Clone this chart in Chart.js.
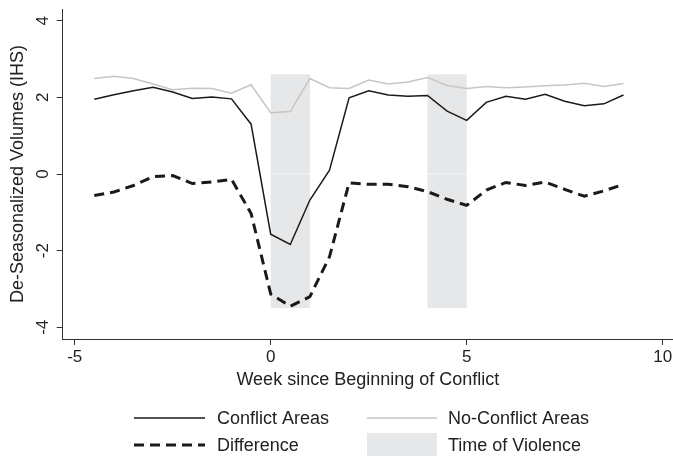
<!DOCTYPE html>
<html>
<head>
<meta charset="utf-8">
<script src="https://cdn.jsdelivr.net/npm/chart.js@4"></script>
<style>
  html, body { margin: 0; padding: 0; background: #fff; }
  #wrap { width: 673px; height: 456px; position: relative; }
</style>
</head>
<body>
<div id="wrap"><canvas id="c" width="673" height="456"></canvas></div>
<script>
// ---- data ----
const weeks = [-4.5,-4,-3.5,-3,-2.5,-2,-1.5,-1,-0.5,0,0.5,1,1.5,2,2.5,3,3.5,4,4.5,5,5.5,6,6.5,7,7.5,8,8.5,9];
const conflictAreas = [1.95,2.07,2.17,2.26,2.14,1.97,2.01,1.96,1.30,-1.57,-1.84,-0.68,0.10,1.99,2.17,2.06,2.03,2.05,1.64,1.40,1.87,2.03,1.95,2.08,1.90,1.78,1.83,2.06];
const noConflictAreas = [2.49,2.55,2.49,2.35,2.20,2.24,2.23,2.11,2.33,1.60,1.63,2.49,2.25,2.23,2.45,2.35,2.40,2.52,2.31,2.23,2.28,2.25,2.27,2.30,2.32,2.37,2.28,2.36];
const difference = [-0.56,-0.47,-0.30,-0.07,-0.04,-0.25,-0.21,-0.14,-1.03,-3.13,-3.45,-3.20,-2.16,-0.23,-0.27,-0.27,-0.33,-0.46,-0.66,-0.82,-0.42,-0.22,-0.30,-0.21,-0.40,-0.58,-0.44,-0.27];
const violenceStart = [0, 4];
const violenceEnd = [1, 5];
const violenceTop = 2.6;
const violenceBottom = -3.5;
const xTicks = [-5, 0, 5, 10];
const yTicks = [-4, -2, 0, 2, 4];
const seriesLabels = ['Conflict Areas', 'No-Conflict Areas', 'Difference', 'Time of Violence'];
const xTitle = 'Week since Beginning of Conflict';
const yTitle = 'De-Seasonalized Volumes (IHS)';

const FONT = '"Liberation Sans", Arial, Helvetica, sans-serif';
const TXT = '#222';
const SHADE = '#e6e7e9';

const pts = arr => weeks.map((w, i) => ({x: w, y: arr[i]}));

const shadePlugin = {
  id: 'shade',
  beforeDatasetsDraw(chart) {
    const {ctx, scales: {x, y}} = chart;
    ctx.save();
    ctx.fillStyle = SHADE;
    violenceStart.forEach((s, i) => {
      const x0 = x.getPixelForValue(s), x1 = x.getPixelForValue(violenceEnd[i]);
      const y0 = y.getPixelForValue(violenceTop), y1 = y.getPixelForValue(violenceBottom);
      ctx.fillRect(x0, y0, x1 - x0, y1 - y0);
    });
    ctx.restore();
  }
};

const legendPlugin = {
  id: 'customLegend',
  afterDraw(chart) {
    const ctx = chart.ctx;
    const ds = chart.data.datasets;
    ctx.save();
    ctx.font = '18px ' + FONT;
    ctx.fillStyle = TXT;
    ctx.textBaseline = 'middle';
    const cols = [{lx0: 134, lx1: 205, tx: 217}, {lx0: 367, lx1: 437, tx: 448}];
    const rows = [418, 445];
    const items = [
      {ds: ds[1], col: 0, row: 0, label: seriesLabels[0]},
      {ds: ds[0], col: 1, row: 0, label: seriesLabels[1]},
      {ds: ds[2], col: 0, row: 1, label: seriesLabels[2]},
      {box: true, col: 1, row: 1, label: seriesLabels[3]}
    ];
    items.forEach(it => {
      const c = cols[it.col], yy = rows[it.row];
      if (it.box) {
        ctx.fillStyle = SHADE;
        ctx.fillRect(c.lx0, yy - 12, c.lx1 - c.lx0, 24);
      } else {
        ctx.strokeStyle = it.ds.borderColor;
        ctx.lineWidth = it.ds.borderWidth;
        ctx.setLineDash(it.ds.borderDash || []);
        ctx.beginPath();
        ctx.moveTo(c.lx0, yy);
        ctx.lineTo(c.lx1, yy);
        ctx.stroke();
        ctx.setLineDash([]);
      }
      ctx.fillStyle = TXT;
      ctx.fillText(it.label, c.tx, yy + 1);
    });
    ctx.restore();
  }
};

new Chart(document.getElementById('c'), {
  type: 'line',
  data: {
    datasets: [
      {label: seriesLabels[1], data: pts(noConflictAreas), borderColor: '#c6c6c6', borderWidth: 1.5, pointRadius: 0, tension: 0, order: 3},
      {label: seriesLabels[0], data: pts(conflictAreas), borderColor: '#1a1a1a', borderWidth: 1.5, pointRadius: 0, tension: 0, order: 2},
      {label: seriesLabels[2], data: pts(difference), borderColor: '#1a1a1a', borderWidth: 3, borderDash: [10, 6], pointRadius: 0, tension: 0, order: 1},
      {label: 'zero', data: [{x: weeks[0], y: 0}, {x: weeks[weeks.length - 1], y: 0}], borderColor: 'rgba(255,255,255,0.45)', borderWidth: 1.5, pointRadius: 0, order: 4}
    ]
  },
  options: {
    responsive: false,
    animation: false,
    events: [],
    layout: {padding: {top: 9, right: 0, left: 0, bottom: 61}},
    plugins: {legend: {display: false}, tooltip: {enabled: false}},
    scales: {
      x: {
        type: 'linear', min: -5.306, max: 10.263,
        afterBuildTicks: s => { s.ticks = xTicks.map(v => ({value: v})); },
        afterFit: s => { s.height = 56; s.paddingLeft = 0; s.paddingRight = 0; },
        grid: {drawOnChartArea: false, tickLength: 6, color: '#333', tickWidth: 1},
        border: {display: true, color: '#333', width: 1},
        ticks: {font: {size: 17, family: FONT}, color: TXT, padding: 2, maxRotation: 0},
        title: {display: true, text: xTitle, font: {size: 18, family: FONT}, color: TXT, padding: {top: 0, bottom: 4}}
      },
      y: {
        type: 'linear', min: -4.305, max: 4.305,
        afterBuildTicks: s => { s.ticks = yTicks.map(v => ({value: v})); },
        afterFit: s => { s.width = 62.7; s.paddingTop = 0; s.paddingBottom = 0; },
        grid: {drawOnChartArea: false, tickLength: 6, color: '#333', tickWidth: 1},
        border: {display: true, color: '#333', width: 1},
        ticks: {font: {size: 17, family: FONT}, color: TXT, padding: 6, minRotation: 90, maxRotation: 90, crossAlign: 'center'},
        title: {display: true, text: yTitle, font: {size: 18, family: FONT}, color: TXT, padding: {top: 7, bottom: 0}}
      }
    }
  },
  plugins: [shadePlugin, legendPlugin]
});
</script>
</body>
</html>
